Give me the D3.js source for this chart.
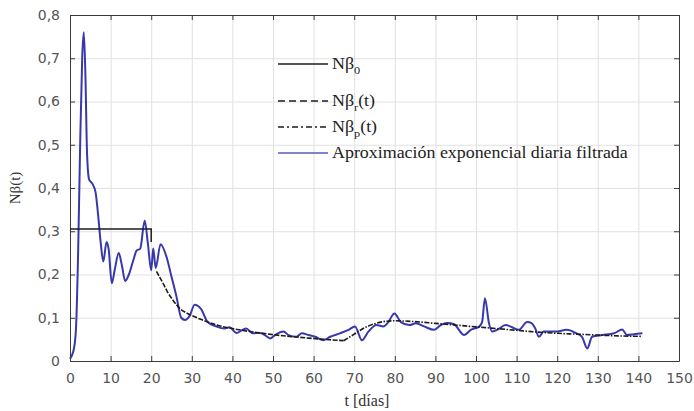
<!DOCTYPE html>
<html>
<head>
<meta charset="utf-8">
<script src="https://cdn.jsdelivr.net/npm/d3@7"></script>
<style>
  html, body { margin: 0; padding: 0; background: #fff; }
  svg { display: block; }
</style>
</head>
<body>
<svg id="chart" width="694" height="411"></svg>
<script>
// filtered daily exponential approximation (blue)
const dayT = [0, 1, 1.5, 2, 2.5, 3, 3.4, 3.8, 4.2, 4.7, 5.5, 6.3, 7, 7.6, 8.2, 9, 9.5, 10.3, 11, 12,
  12.8, 13.6, 14.5, 15.5, 16.4, 17.3, 18.4, 19.2, 20, 20.5, 21.1, 22.3, 23.8, 25, 26.2, 27.4, 28.3, 29.5,
  30.7, 32.3, 33.9, 36, 38, 39.3, 41, 42.5, 43.4, 45, 46.8, 48, 49.3, 50.5, 52.6, 53.8, 55.8, 57.1, 58.8,
  60.4, 62.4, 64.1, 66.5, 68.6, 70.2, 71.9, 73.5, 75.5, 77.2, 78.4, 79.9, 81.5, 83.6, 85.2, 87.2, 89.7,
  91.3, 92.9, 94.6, 97.1, 98.7, 100.7, 101.5, 102.2, 103.2, 104, 105.2, 107.3, 108.9, 110.5, 112.6, 113.6,
  114.6, 115.5, 116.7, 119.6, 122.4, 124.5, 126.1, 127.4, 128.6, 131.1, 134, 136, 137.2, 138.9, 141];
const dayV = [0.005, 0.03, 0.08, 0.25, 0.50, 0.70, 0.76, 0.66, 0.48, 0.42, 0.41, 0.39, 0.33, 0.27, 0.23, 0.275, 0.26, 0.18, 0.21, 0.25,
  0.22, 0.185, 0.20, 0.23, 0.255, 0.26, 0.325, 0.27, 0.21, 0.26, 0.215, 0.27, 0.24, 0.195, 0.15, 0.10, 0.095, 0.105,
  0.13, 0.12, 0.09, 0.08, 0.075, 0.078, 0.065, 0.072, 0.075, 0.064, 0.065, 0.06, 0.052, 0.06, 0.068, 0.06, 0.056, 0.064, 0.06,
  0.056, 0.048, 0.056, 0.064, 0.072, 0.08, 0.048, 0.068, 0.083, 0.08, 0.09, 0.11, 0.09, 0.083, 0.087, 0.08, 0.072,
  0.083, 0.088, 0.085, 0.06, 0.072, 0.079, 0.09, 0.145, 0.087, 0.068, 0.072, 0.083, 0.078, 0.072, 0.09, 0.088,
  0.075, 0.056, 0.068, 0.068, 0.072, 0.065, 0.056, 0.029, 0.056, 0.06, 0.064, 0.073, 0.06, 0.062, 0.064];

// N beta_0 (solid)
const b0T = [0, 20, 20];
const b0V = [0.305, 0.305, 0.275];

// N beta_r(t) (dashed)
const brT = [21.3, 22.9, 24, 25.4, 27, 28.5, 30.3, 32, 34, 37, 40, 43, 46, 50, 55, 60, 64, 67.4];
const brV = [0.207, 0.18, 0.16, 0.14, 0.122, 0.112, 0.104, 0.097, 0.09, 0.081, 0.075, 0.07, 0.066, 0.061, 0.056, 0.052, 0.049, 0.047];

// N beta_p(t) (dash-dot)
const bpT = [67.4, 70, 72, 75, 78, 80, 85, 90, 95, 100, 105, 110, 115, 120, 125, 130, 135, 141];
const bpV = [0.047, 0.062, 0.074, 0.086, 0.092, 0.093, 0.091, 0.087, 0.083, 0.079, 0.075, 0.071, 0.067, 0.064, 0.062, 0.06, 0.058, 0.057];

const xTicks = [0, 10, 20, 30, 40, 50, 60, 70, 80, 90, 100, 110, 120, 130, 140, 150];
const yTicks = [0, 0.1, 0.2, 0.3, 0.4, 0.5, 0.6, 0.7, 0.8];

const m = { left: 70, right: 679, top: 15, bottom: 361 };
const svg = d3.select('#chart');

const x = d3.scaleLinear().domain([0, 150]).range([m.left, m.right]);
const y = d3.scaleLinear().domain([0, 0.8]).range([m.bottom, m.top]);
const fmt = d => d === 0 ? '0' : d3.format('.1f')(d).replace('.', ',');

// grid
const grid = svg.append('g').attr('stroke', '#e1e1e1').attr('stroke-width', 1);
grid.selectAll('.gx').data(xTicks.slice(1, -1)).join('line')
  .attr('x1', d => x(d) + 0.5).attr('x2', d => x(d) + 0.5)
  .attr('y1', m.top).attr('y2', m.bottom);
grid.selectAll('.gy').data(yTicks.slice(1, -1)).join('line')
  .attr('y1', d => y(d) + 0.5).attr('y2', d => y(d) + 0.5)
  .attr('x1', m.left).attr('x2', m.right);

// axes with inward ticks
const axisStyle = g => {
  g.select('.domain').attr('stroke', '#3a3a3a');
  g.selectAll('.tick line').attr('stroke', '#3a3a3a');
  g.selectAll('text').attr('fill', '#555')
    .style('font-family', '"DejaVu Sans", sans-serif').style('font-size', '14px');
};
svg.append('g').attr('transform', `translate(0,${m.bottom})`)
  .call(d3.axisBottom(x).tickValues(xTicks).tickSizeInner(-5).tickSizeOuter(0).tickPadding(12))
  .call(axisStyle);
svg.append('g').attr('transform', `translate(0,${m.top})`)
  .call(d3.axisTop(x).tickValues(xTicks).tickSizeInner(-5).tickSizeOuter(0).tickFormat(''))
  .call(axisStyle);
svg.append('g').attr('transform', `translate(${m.left},0)`)
  .call(d3.axisLeft(y).tickValues(yTicks).tickSizeInner(-5).tickSizeOuter(0).tickPadding(10).tickFormat(fmt))
  .call(axisStyle);
svg.append('g').attr('transform', `translate(${m.right},0)`)
  .call(d3.axisRight(y).tickValues(yTicks).tickSizeInner(-5).tickSizeOuter(0).tickFormat(''))
  .call(axisStyle);

// series
const line = d3.line().x(d => x(d[0])).y(d => y(d[1]));
const smooth = d3.line().x(d => x(d[0])).y(d => y(d[1])).curve(d3.curveMonotoneX);
const zip = (a, b) => a.map((t, i) => [t, b[i]]);

svg.append('path').datum(zip(dayT, dayV)).attr('d', smooth)
  .attr('fill', 'none').attr('stroke', '#3838ac').attr('stroke-width', 2)
  .attr('stroke-linejoin', 'round');
svg.append('path').datum(zip(b0T, b0V)).attr('d', line)
  .attr('fill', 'none').attr('stroke', '#1c1c1c').attr('stroke-width', 1.5);
svg.append('path').datum(zip(brT, brV)).attr('d', smooth)
  .attr('fill', 'none').attr('stroke', '#1c1c1c').attr('stroke-width', 1.6)
  .attr('stroke-dasharray', '5,1.5');
svg.append('path').datum(zip(bpT, bpV)).attr('d', smooth)
  .attr('fill', 'none').attr('stroke', '#1c1c1c').attr('stroke-width', 1.6)
  .attr('stroke-dasharray', '5,1.5,1.5,1.5');

// legend
const legend = [
  { name: 'Nβ', sub: '0', tail: '', color: '#1c1c1c', dash: null, y: 64 },
  { name: 'Nβ', sub: 'r', tail: '(t)', color: '#1c1c1c', dash: '7,4', y: 101 },
  { name: 'Nβ', sub: 'p', tail: '(t)', color: '#1c1c1c', dash: '6,3,2,3', y: 127 },
  { name: 'Aproximación exponencial diaria filtrada', sub: '', tail: '', color: '#5a5ab8', dash: null, y: 153 }
];
const lg = svg.append('g');
legend.forEach(d => {
  lg.append('line').attr('x1', 278).attr('x2', 328).attr('y1', d.y).attr('y2', d.y)
    .attr('stroke', d.color).attr('stroke-width', 1.5)
    .attr('stroke-dasharray', d.dash);
  const t = lg.append('text')
    .attr('transform', `translate(332,${d.y + 5}) scale(1.12,1)`)
    .attr('fill', '#222')
    .style('font-family', '"Liberation Serif", serif').style('font-size', '16px');
  t.append('tspan').text(d.name);
  if (d.sub) {
    t.append('tspan').attr('dy', 5).style('font-size', '11px').text(d.sub);
    t.append('tspan').attr('dy', -5).text(d.tail);
  }
});

// axis labels
svg.append('text')
  .attr('transform', `translate(20,${(m.top + m.bottom) / 2}) rotate(-90)`)
  .attr('text-anchor', 'middle').attr('fill', '#333')
  .style('font-family', '"Liberation Serif", serif').style('font-size', '15px')
  .text('Nβ(t)');
svg.append('text')
  .attr('x', 367).attr('y', 406).attr('text-anchor', 'middle').attr('fill', '#333')
  .style('font-family', '"Liberation Serif", serif').style('font-size', '16px')
  .text('t [días]');
</script>
</body>
</html>
